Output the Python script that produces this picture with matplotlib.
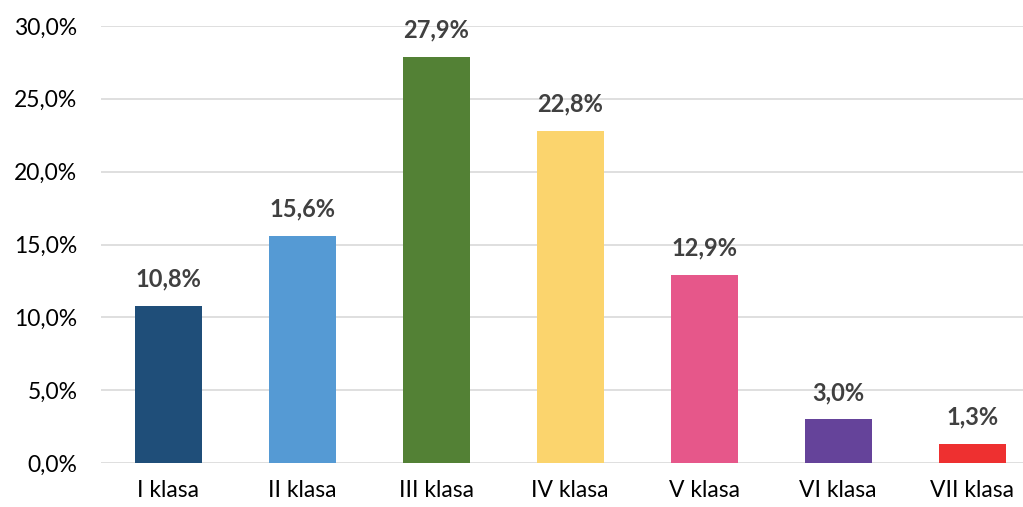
import matplotlib.pyplot as plt
from matplotlib.ticker import FuncFormatter

categories = ["I klasa", "II klasa", "III klasa", "IV klasa", "V klasa", "VI klasa", "VII klasa"]
values = [10.8, 15.6, 27.9, 22.8, 12.9, 3.0, 1.3]
colors = ["#1F4E79", "#559AD4", "#538135", "#FBD46D", "#E6578A", "#65439A", "#EE3030"]

plt.rcParams['font.family'] = ['Lato', 'DejaVu Sans']

fig = plt.figure(figsize=(10.23, 5.07), dpi=100)
ax = fig.add_axes([101 / 1023, 44 / 507, 1 - 101 / 1023, 437 / 507])

x = range(len(categories))
bars = ax.bar(x, values, width=0.5, color=colors, zorder=3)

for xi, v in zip(x, values):
    ax.annotate(f"{v:.1f}%".replace(".", ","), (xi, v), xytext=(0, 11),
                textcoords="offset points", ha="center", va="bottom",
                fontsize=17, fontweight="bold", color="#404040")

ax.set_ylim(0, 30)
ax.set_xlim(-0.5, 6.38)
ax.set_yticks(range(0, 31, 5))
ax.yaxis.set_major_formatter(FuncFormatter(lambda v, p: f"{v:.1f}%".replace(".", ",")))
ax.set_xticks(list(x))
ax.set_xticklabels(categories)
ax.tick_params(axis="both", length=0, labelsize=16.5, colors="#000000")
ax.tick_params(axis="y", pad=17)
ax.tick_params(axis="x", pad=12)
ax.grid(axis="y", color="#D9D9D9", linewidth=1.2, zorder=0)
for s in ax.spines.values():
    s.set_visible(False)

fig.savefig("out.png", dpi=100)
